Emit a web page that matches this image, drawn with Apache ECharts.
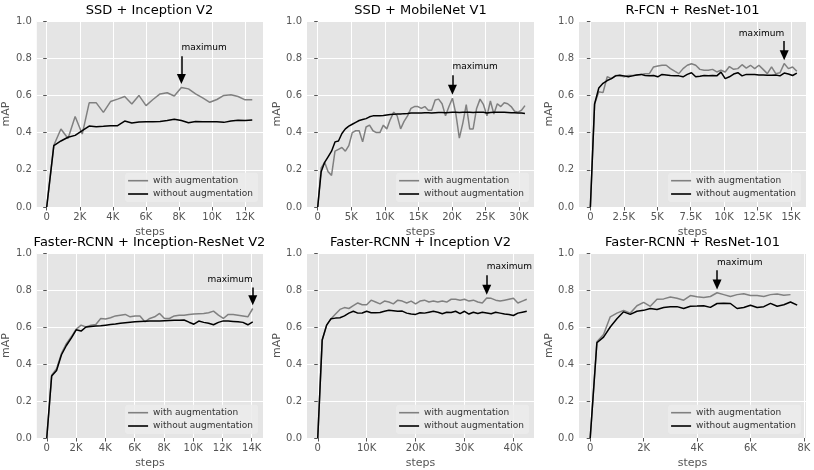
<!DOCTYPE html>
<html>
<head>
<meta charset="utf-8">
<script src="https://cdn.jsdelivr.net/npm/echarts@6/dist/echarts.min.js"></script>
<style>
  html, body { margin: 0; padding: 0; background: #fff; }
  #main { width: 814px; height: 470px; }
</style>
</head>
<body>
<div id="main"></div>
<script>
// panel titles
const titles = [
  'SSD + Inception V2',
  'SSD + MobileNet V1',
  'R-FCN + ResNet-101',
  'Faster-RCNN + Inception-ResNet V2',
  'Faster-RCNN + Inception V2',
  'Faster-RCNN + ResNet-101'
];

// SSD + Inception V2
const steps1 = [0, 430, 860, 1290, 1720, 2150, 2570, 3000, 3430, 3860, 4290, 4720, 5150, 5580, 6010,
  6430, 6860, 7290, 7720, 8150, 8580, 9010, 9440, 9870, 10300, 10720, 11150, 11580, 12010, 12440];
const aug1 = [0, 0.332, 0.419, 0.368, 0.487, 0.392, 0.56, 0.56, 0.509, 0.567, 0.58, 0.594, 0.554, 0.6, 0.545,
  0.578, 0.608, 0.614, 0.597, 0.643, 0.635, 0.608, 0.587, 0.563, 0.578, 0.6, 0.603, 0.594, 0.576, 0.576];
const base1 = [0, 0.33, 0.355, 0.375, 0.385, 0.41, 0.435, 0.432, 0.434, 0.437, 0.437, 0.462, 0.452, 0.457, 0.458,
  0.458, 0.46, 0.465, 0.472, 0.465, 0.453, 0.46, 0.458, 0.458, 0.458, 0.455, 0.462, 0.467, 0.465, 0.468];

// SSD + MobileNet V1
const steps2 = [0, 515, 1030, 1545, 2060, 2575, 3090, 3605, 4120, 4635, 5150, 5665, 6180, 6695, 7210,
  7725, 8240, 8755, 9270, 9785, 10300, 10815, 11330, 11845, 12360, 12875, 13390, 13905, 14420, 14935,
  15450, 15965, 16480, 16995, 17510, 18025, 18540, 19055, 19570, 20085, 20600, 21115, 21630, 22145, 22660,
  23175, 23690, 24205, 24720, 25235, 25750, 26265, 26780, 27295, 27810, 28325, 28840, 29355, 29870, 30385, 30900];
const aug2 = [0, 0.21, 0.24, 0.19, 0.17, 0.3, 0.31, 0.32, 0.3, 0.33, 0.4, 0.41, 0.41, 0.35, 0.43,
  0.44, 0.41, 0.4, 0.4, 0.44, 0.42, 0.47, 0.51, 0.49, 0.42, 0.46, 0.49, 0.53, 0.54, 0.54,
  0.53, 0.54, 0.52, 0.52, 0.575, 0.58, 0.555, 0.49, 0.54, 0.585, 0.5, 0.37, 0.45, 0.55, 0.42,
  0.42, 0.53, 0.58, 0.55, 0.49, 0.57, 0.5, 0.555, 0.54, 0.56, 0.555, 0.54, 0.515, 0.51, 0.52, 0.545];
const base2 = [0, 0.19, 0.24, 0.27, 0.3, 0.35, 0.355, 0.395, 0.42, 0.435, 0.445, 0.455, 0.465, 0.47, 0.475,
  0.485, 0.49, 0.49, 0.49, 0.492, 0.495, 0.497, 0.498, 0.5, 0.5, 0.502, 0.503, 0.505, 0.505, 0.506,
  0.506, 0.507, 0.507, 0.506, 0.507, 0.508, 0.508, 0.507, 0.508, 0.509, 0.509, 0.508, 0.509, 0.51, 0.509,
  0.508, 0.51, 0.51, 0.509, 0.505, 0.508, 0.509, 0.509, 0.51, 0.509, 0.508, 0.507, 0.507, 0.506, 0.505, 0.503];

// R-FCN + ResNet-101
const steps3 = [0, 315, 630, 945, 1260, 1575, 1890, 2205, 2520, 2835, 3150, 3465, 3780, 4095, 4410,
  4725, 5040, 5355, 5670, 5985, 6300, 6615, 6930, 7245, 7560, 7875, 8190, 8505, 8820, 9135,
  9450, 9765, 10080, 10395, 10710, 11025, 11340, 11655, 11970, 12285, 12600, 12915, 13230, 13545, 13860,
  14175, 14490, 14805, 15120, 15435];
const aug3 = [0, 0.554, 0.62, 0.615, 0.7, 0.69, 0.707, 0.707, 0.7, 0.707, 0.707, 0.71, 0.713, 0.717, 0.717,
  0.753, 0.758, 0.762, 0.762, 0.744, 0.73, 0.717, 0.744, 0.762, 0.77, 0.762, 0.74, 0.735, 0.735, 0.74,
  0.726, 0.735, 0.726, 0.755, 0.74, 0.744, 0.765, 0.747, 0.762, 0.744, 0.762, 0.74, 0.717, 0.753, 0.717,
  0.722, 0.771, 0.744, 0.753, 0.73];
const base3 = [0, 0.554, 0.64, 0.665, 0.68, 0.69, 0.705, 0.708, 0.705, 0.7, 0.705, 0.71, 0.713, 0.707, 0.705,
  0.707, 0.7, 0.713, 0.71, 0.707, 0.705, 0.705, 0.7, 0.713, 0.722, 0.7, 0.703, 0.707, 0.705, 0.707,
  0.705, 0.725, 0.69, 0.7, 0.715, 0.722, 0.705, 0.713, 0.713, 0.712, 0.71, 0.71, 0.708, 0.708, 0.71,
  0.705, 0.72, 0.715, 0.707, 0.72];

// Faster-RCNN + Inception-ResNet V2
const steps4 = [0, 335, 670, 1005, 1340, 1675, 2010, 2345, 2680, 3015, 3350, 3685, 4020, 4355, 4690,
  5025, 5360, 5695, 6030, 6365, 6700, 7035, 7370, 7705, 8040, 8375, 8710, 9045, 9380, 9715,
  10050, 10385, 10720, 11055, 11390, 11725, 12060, 12395, 12730, 13065, 13400, 13735, 14070];
const aug4 = [0, 0.34, 0.375, 0.457, 0.51, 0.547, 0.588, 0.61, 0.6, 0.61, 0.614, 0.646, 0.643, 0.65, 0.66,
  0.664, 0.668, 0.655, 0.66, 0.66, 0.628, 0.646, 0.655, 0.673, 0.646, 0.646, 0.66, 0.664, 0.664, 0.668,
  0.67, 0.672, 0.673, 0.677, 0.686, 0.664, 0.646, 0.668, 0.668, 0.664, 0.66, 0.655, 0.7];
const base4 = [0, 0.335, 0.365, 0.45, 0.5, 0.54, 0.585, 0.578, 0.6, 0.603, 0.605, 0.607, 0.61, 0.613, 0.616,
  0.62, 0.623, 0.626, 0.628, 0.63, 0.631, 0.632, 0.632, 0.633, 0.634, 0.635, 0.636, 0.637, 0.638, 0.626,
  0.615, 0.632, 0.625, 0.62, 0.612, 0.625, 0.633, 0.632, 0.63, 0.628, 0.625, 0.612, 0.628];

// Faster-RCNN + Inception V2
const steps5 = [0, 910, 1820, 2730, 3640, 4550, 5460, 6370, 7280, 8190, 9100, 10010, 10920, 11830, 12740,
  13650, 14560, 15470, 16380, 17290, 18200, 19110, 20020, 20930, 21840, 22750, 23660, 24570, 25480, 26390,
  27300, 28210, 29120, 30030, 30940, 31850, 32760, 33670, 34580, 35490, 36400, 37310, 38220, 39130, 40040,
  40950, 41860, 42770];
const aug5 = [0, 0.53, 0.61, 0.645, 0.67, 0.695, 0.705, 0.7, 0.715, 0.73, 0.72, 0.72, 0.745, 0.735, 0.725,
  0.74, 0.735, 0.725, 0.745, 0.74, 0.73, 0.74, 0.725, 0.74, 0.745, 0.735, 0.74, 0.735, 0.74, 0.735,
  0.75, 0.75, 0.745, 0.75, 0.74, 0.745, 0.735, 0.73, 0.757, 0.755, 0.745, 0.74, 0.745, 0.75, 0.755,
  0.73, 0.74, 0.75];
const base5 = [0, 0.53, 0.61, 0.645, 0.648, 0.65, 0.66, 0.675, 0.685, 0.675, 0.676, 0.685, 0.677, 0.677, 0.678,
  0.685, 0.69, 0.688, 0.685, 0.686, 0.675, 0.67, 0.668, 0.677, 0.675, 0.68, 0.685, 0.68, 0.672, 0.68,
  0.678, 0.685, 0.672, 0.685, 0.67, 0.68, 0.673, 0.68, 0.676, 0.672, 0.68, 0.675, 0.67, 0.668, 0.662,
  0.675, 0.68, 0.685];

// Faster-RCNN + ResNet-101 (augmented run stops one eval earlier)
const steps6 = [0, 250, 500, 750, 1000, 1250, 1500, 1750, 2000, 2250, 2500, 2750, 3000, 3250, 3500,
  3750, 4000, 4250, 4500, 4750, 5000, 5250, 5500, 5750, 6000, 6250, 6500, 6750, 7000, 7250, 7500, 7750];
const aug6 = [0, 0.52, 0.56, 0.655, 0.675, 0.69, 0.675, 0.715, 0.733, 0.712, 0.75, 0.752, 0.762, 0.755, 0.745,
  0.77, 0.763, 0.76, 0.765, 0.785, 0.775, 0.765, 0.775, 0.78, 0.77, 0.77, 0.765, 0.775, 0.778, 0.772, 0.775];
const base6 = [0, 0.515, 0.545, 0.6, 0.645, 0.682, 0.668, 0.685, 0.69, 0.7, 0.695, 0.705, 0.71, 0.71, 0.7,
  0.712, 0.713, 0.715, 0.706, 0.727, 0.728, 0.727, 0.7, 0.705, 0.718, 0.705, 0.71, 0.728, 0.712, 0.72, 0.735, 0.718];

// x tick labels of each panel
const xTicks = [
  [0, 2000, 4000, 6000, 8000, 10000, 12000],
  [0, 5000, 10000, 15000, 20000, 25000, 30000],
  [0, 2500, 5000, 7500, 10000, 12500, 15000],
  [0, 2000, 4000, 6000, 8000, 10000, 12000, 14000],
  [0, 10000, 20000, 30000, 40000],
  [0, 2000, 4000, 6000, 8000]
];
const xRange = [[-600, 13090], [-1600, 32250], [-850, 16120], [-680, 14770], [-2200, 44250], [-420, 8080]];

// "maximum" annotations
const maxStep = [8150, 20085, 14490, 14070, 34580, 4750];
const maxValue = [0.643, 0.585, 0.771, 0.7, 0.757, 0.785];
const arrowTop = [0.81, 0.708, 0.892, 0.813, 0.88, 0.907];
const textY = [0.857, 0.753, 0.933, 0.856, 0.925, 0.948];
const textAlign = ['left', 'left', 'right', 'right', 'left', 'left'];

const stepsAll = [steps1, steps2, steps3, steps4, steps5, steps6];
const augAll = [aug1, aug2, aug3, aug4, aug5, aug6];
const baseAll = [base1, base2, base3, base4, base5, base6];

const FONT = 'DejaVu Sans';
const lefts = [36, 307, 579];
const tops = [21, 253];
const W = 227, H = 186;

const grids = [], xAxes = [], yAxes = [], series = [], legends = [], graphics = [];

const pairs = (xs, ys) => ys.map((y, k) => [xs[k], y]);
const kFormat = v => (v === 0 ? '0' : (v / 1000) + 'K');

for (let i = 0; i < 6; i++) {
  const left = lefts[i % 3];
  const top = tops[Math.floor(i / 3)];
  grids.push({
    left, top, width: W, height: H,
    show: true, backgroundColor: '#E5E5E5', borderWidth: 0
  });
  xAxes.push({
    gridIndex: i, type: 'value',
    min: xRange[i][0], max: xRange[i][1],
    axisLine: { show: false },
    axisTick: { show: true, length: 3.5, lineStyle: { color: '#555' }, customValues: xTicks[i] },
    axisLabel: { customValues: xTicks[i], formatter: kFormat, color: '#555', fontSize: 10, margin: 5, fontFamily: FONT },
    splitLine: { show: true, lineStyle: { color: '#fff', width: 1 } },
    name: 'steps', nameLocation: 'middle', nameGap: 20,
    nameTextStyle: { color: '#555', fontSize: 11, fontFamily: FONT }
  });
  yAxes.push({
    gridIndex: i, type: 'value', min: 0, max: 1, interval: 0.2,
    axisLine: { show: false },
    axisTick: { show: true, length: 3.5, lineStyle: { color: '#555' } },
    axisLabel: { formatter: v => v.toFixed(1), color: '#555', fontSize: 10, margin: 5, fontFamily: FONT },
    splitLine: { show: true, lineStyle: { color: '#fff', width: 1 } },
    name: 'mAP', nameLocation: 'middle', nameGap: 24,
    nameTextStyle: { color: '#555', fontSize: 11, fontFamily: FONT }
  });

  series.push({
    type: 'line', name: 'with augmentation',
    xAxisIndex: i, yAxisIndex: i,
    data: pairs(stepsAll[i], augAll[i]),
    symbol: 'none', lineStyle: { color: '#808080', width: 1.5 }, itemStyle: { color: '#808080' },
    z: 2
  });
  series.push({
    type: 'line', name: 'without augmentation',
    xAxisIndex: i, yAxisIndex: i,
    data: pairs(stepsAll[i], baseAll[i]),
    symbol: 'none', lineStyle: { color: '#000', width: 1.5 }, itemStyle: { color: '#000' },
    z: 3,
    markLine: {
      silent: true, animation: false,
      symbol: ['none', 'triangle'], symbolSize: [9, 10],
      lineStyle: { color: '#000', width: 1.5, type: 'solid' },
      label: { show: false },
      data: [[
        { coord: [maxStep[i], arrowTop[i]] },
        { coord: [maxStep[i], maxValue[i] + 0.045] }
      ]]
    },
    markPoint: {
      silent: true, animation: false,
      symbol: 'circle', symbolSize: 0,
      label: {
        show: true, formatter: 'maximum', position: 'inside',
        align: textAlign[i], verticalAlign: 'middle',
        color: '#000', fontSize: 9, fontFamily: FONT
      },
      data: [{ coord: [maxStep[i], textY[i]] }]
    }
  });

  legends.push({
    data: ['with augmentation', 'without augmentation'],
    orient: 'vertical',
    right: 814 - (left + W - 5),
    bottom: 470 - (top + H - 5),
    icon: 'rect',
    itemWidth: 20, itemHeight: 1.6, itemGap: 3.3,
    padding: [3, 5, 3, 3],
    backgroundColor: 'rgba(236,236,236,0.85)',
    borderRadius: 3,
    selectedMode: false,
    textStyle: { color: '#333', fontSize: 9, lineHeight: 10, fontFamily: FONT }
  });

  graphics.push({
    type: 'text',
    x: left + W / 2,
    y: i < 3 ? 11 : 243,
    style: {
      text: titles[i], fill: '#000', fontSize: 13, fontFamily: FONT,
      align: 'center', verticalAlign: 'middle'
    }
  });
}

const chart = echarts.init(document.getElementById('main'), null, { renderer: 'canvas' });
chart.setOption({
  animation: false,
  backgroundColor: '#fff',
  textStyle: { fontFamily: FONT },
  grid: grids,
  xAxis: xAxes,
  yAxis: yAxes,
  legend: legends,
  graphic: graphics,
  series
});
</script>
</body>
</html>
